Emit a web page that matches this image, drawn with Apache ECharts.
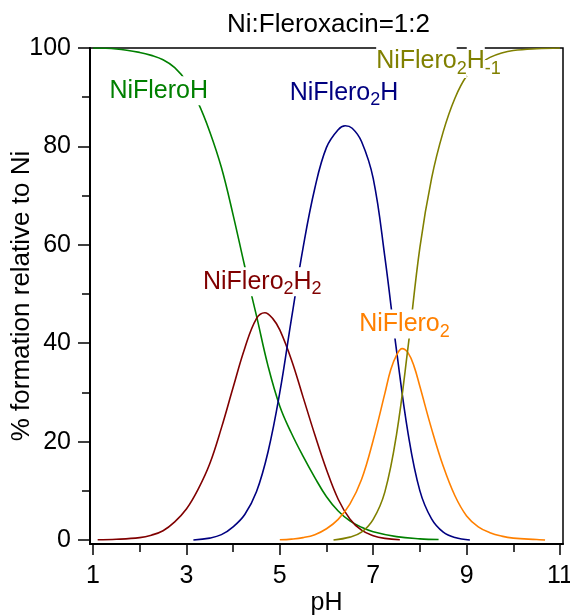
<!DOCTYPE html>
<html><head><meta charset="utf-8">
<script src="https://cdn.jsdelivr.net/npm/echarts@6/dist/echarts.min.js"></script>
<style>html,body{margin:0;padding:0;background:#fff}#c{width:570px;height:615px}</style>
</head><body><div id="c"></div>
<script>
const FONT = "'Liberation Sans', Arial, Helvetica, sans-serif";
const titleText = 'Ni:Fleroxacin=1:2';
const xName = 'pH';
const yName = '% formation relative to Ni';
const xMajorTicks = [1, 3, 5, 7, 9, 11];
const xMinorTicks = [2, 4, 6, 8, 10];
const yMajorTicks = [0, 20, 40, 60, 80, 100];
const yMinorTicks = [10, 30, 50, 70, 90];

// NiFleroH
const phNiFleroH  = [1.0, 1.5, 2.0, 2.25, 2.5, 2.75, 3.0, 3.25, 3.5, 3.75, 4.0, 4.25, 4.5, 4.75, 5.0, 5.25, 5.5, 5.75, 6.0, 6.25, 6.5, 6.75, 7.0, 7.5, 8.0, 8.4];
const pctNiFleroH = [100, 99.8, 99.1, 98.5, 97.6, 96.0, 93.2, 88.9, 83.0, 75.7, 66.1, 55.6, 45.6, 35.3, 27.2, 21.7, 17.0, 12.7, 8.8, 5.9, 3.9, 2.6, 1.7, 0.7, 0.25, 0.1];
// NiFlero2H2
const phNiFlero2H2  = [1.1, 1.5, 2.0, 2.25, 2.5, 2.75, 3.0, 3.25, 3.5, 3.75, 4.0, 4.25, 4.5, 4.68, 4.85, 5.0, 5.25, 5.5, 5.75, 6.0, 6.25, 6.5, 6.75, 7.0, 7.25, 7.57];
const pctNiFlero2H2 = [0.05, 0.15, 0.5, 1.0, 1.9, 3.7, 6.3, 10.3, 15.5, 22.8, 31.0, 39.0, 45.0, 46.2, 45.0, 42.7, 36.6, 29.0, 21.4, 14.3, 8.3, 4.3, 2.0, 0.9, 0.35, 0.05];
// NiFlero2H
const phNiFlero2H  = [3.15, 3.5, 3.75, 4.0, 4.25, 4.5, 4.75, 5.0, 5.25, 5.5, 5.75, 6.0, 6.25, 6.4, 6.55, 6.75, 7.0, 7.25, 7.5, 7.75, 8.0, 8.25, 8.5, 8.75, 9.07];
const pctNiFlero2H = [0, 0.4, 1.1, 2.7, 5.2, 9.8, 18.0, 30.0, 45.0, 59.5, 71.5, 79.8, 83.4, 84.2, 83.7, 81.0, 73.5, 57.5, 38.5, 21.5, 10.0, 4.3, 1.6, 0.5, 0];
// NiFlero2
const phNiFlero2  = [5.0, 5.25, 5.5, 5.75, 6.0, 6.25, 6.5, 6.75, 7.0, 7.25, 7.375, 7.5, 7.62, 7.75, 7.875, 8.0, 8.25, 8.5, 8.75, 9.0, 9.25, 9.5, 9.75, 10.0, 10.5, 10.68];
const pctNiFlero2 = [0.05, 0.2, 0.5, 1.1, 2.3, 4.2, 7.3, 12.3, 20.3, 29.8, 34.6, 37.6, 38.9, 38.0, 35.3, 31.2, 22.6, 15.0, 9.0, 4.9, 2.7, 1.5, 0.8, 0.4, 0.1, 0];
// NiFlero2H-1
const phNiFlero2Hm1  = [6.15, 6.5, 6.75, 7.0, 7.25, 7.5, 7.75, 8.0, 8.25, 8.5, 8.75, 9.0, 9.25, 9.5, 9.75, 10.0, 10.5, 11.0];
const pctNiFlero2Hm1 = [0, 0.6, 1.6, 4.2, 9.8, 21.5, 39.5, 59.5, 73.5, 83.0, 89.8, 94.3, 96.6, 98.1, 99.0, 99.5, 99.85, 100];

const speciesLabels = ['{a|NiFleroH}', '{a|NiFlero}{s|2}{a|H}{s|2}', '{a|NiFlero}{s|2}{a|H}', '{a|NiFlero}{s|2}', '{a|NiFlero}{s|2}{a|H}{s|-1}'];

const species = [
  { name: 'NiFleroH',    ph: phNiFleroH,    pct: pctNiFleroH,    color: '#008000', label: speciesLabels[0], at: [2.407, 91.3] },
  { name: 'NiFlero2H2',  ph: phNiFlero2H2,  pct: pctNiFlero2H2,  color: '#800000', label: speciesLabels[1], at: [4.625, 52.3] },
  { name: 'NiFlero2H',   ph: phNiFlero2H,   pct: pctNiFlero2H,   color: '#000080', label: speciesLabels[2], at: [6.375, 90.65] },
  { name: 'NiFlero2',    ph: phNiFlero2,    pct: pctNiFlero2,    color: '#ff8000', label: speciesLabels[3], at: [7.670, 43.7] },
  { name: 'NiFlero2H-1', ph: phNiFlero2Hm1, pct: pctNiFlero2Hm1, color: '#808000', label: speciesLabels[4], at: [8.398, 97.05] }
];

const X_MIN = 0.936, X_MAX = 11.064, Y_MIN = -0.8, Y_MAX = 100;
const gridRect = { left: 90, right: 7, top: 48, bottom: 71 };
const tickLine = { color: '#000', width: 1.5 };

const series = species.map(sp => ({
  name: sp.name,
  type: 'line',
  xAxisIndex: 0, yAxisIndex: 0,
  data: sp.ph.map((p, i) => [p, sp.pct[i]]),
  showSymbol: false, symbol: 'none',
  smooth: 0.4,
  lineStyle: { color: sp.color, width: 1.6 },
  itemStyle: { color: sp.color },
  markPoint: {
    symbol: 'circle', symbolSize: 0, silent: true, animation: false,
    data: [{ coord: sp.at, value: 0 }],
    label: {
      show: true, position: 'inside', formatter: sp.label, color: sp.color,
      rich: {
        a: { fontSize: 25, fontFamily: FONT, color: sp.color, lineHeight: 29, verticalAlign: 'top', padding: [2, 0, 2, 0], backgroundColor: '#fff' },
        s: { fontSize: 18, fontFamily: FONT, color: sp.color, lineHeight: 31, verticalAlign: 'bottom', backgroundColor: '#fff' }
      }
    }
  }
}));

const chart = echarts.init(document.getElementById('c'), null, { renderer: 'canvas' });
chart.setOption({
  animation: false,
  backgroundColor: '#fff',
  textStyle: { fontFamily: FONT },
  title: {
    text: titleText, left: 328.5, top: 12, textAlign: 'center', padding: 0,
    textStyle: { fontSize: 26, fontWeight: 'normal', color: '#000', fontFamily: FONT }
  },
  grid: [
    Object.assign({ show: true, borderColor: '#000', borderWidth: 1.5, containLabel: false, outerBoundsMode: 'none' }, gridRect),
    Object.assign({ show: false, containLabel: false, outerBoundsMode: 'none' }, gridRect)
  ],
  xAxis: [
    {
      type: 'value', gridIndex: 0, min: X_MIN, max: X_MAX, position: 'bottom',
      axisLine: { show: true, onZero: false, lineStyle: { color: '#000', width: 2 } },
      axisTick: { show: true, customValues: xMajorTicks, length: 11, lineStyle: tickLine },
      axisLabel: { show: true, customValues: xMajorTicks, fontSize: 25, fontFamily: FONT, color: '#000', margin: 20 },
      splitLine: { show: false },
      name: xName, nameLocation: 'middle', nameGap: 47, nameMoveOverlap: false,
      nameTextStyle: { fontSize: 25, fontFamily: FONT, color: '#000' }
    },
    {
      type: 'value', gridIndex: 1, min: X_MIN, max: X_MAX, position: 'bottom',
      axisLine: { show: false, onZero: false },
      axisTick: { show: true, customValues: xMinorTicks, length: 8, lineStyle: tickLine },
      axisLabel: { show: false },
      splitLine: { show: false }
    }
  ],
  yAxis: [
    {
      type: 'value', gridIndex: 0, min: Y_MIN, max: Y_MAX, position: 'left',
      axisLine: { show: true, onZero: false, lineStyle: { color: '#000', width: 2 } },
      axisTick: { show: true, customValues: yMajorTicks, length: 12, lineStyle: tickLine },
      axisLabel: { show: true, customValues: yMajorTicks, fontSize: 25, fontFamily: FONT, color: '#000', margin: 19 },
      splitLine: { show: false },
      name: yName, nameLocation: 'middle', nameGap: 55, nameMoveOverlap: false,
      nameTextStyle: { fontSize: 26, fontFamily: FONT, color: '#000' }
    },
    {
      type: 'value', gridIndex: 1, min: Y_MIN, max: Y_MAX, position: 'left',
      axisLine: { show: false, onZero: false },
      axisTick: { show: true, customValues: yMinorTicks, length: 8, lineStyle: tickLine },
      axisLabel: { show: false },
      splitLine: { show: false }
    }
  ],
  series: series
});
</script>
</body></html>
